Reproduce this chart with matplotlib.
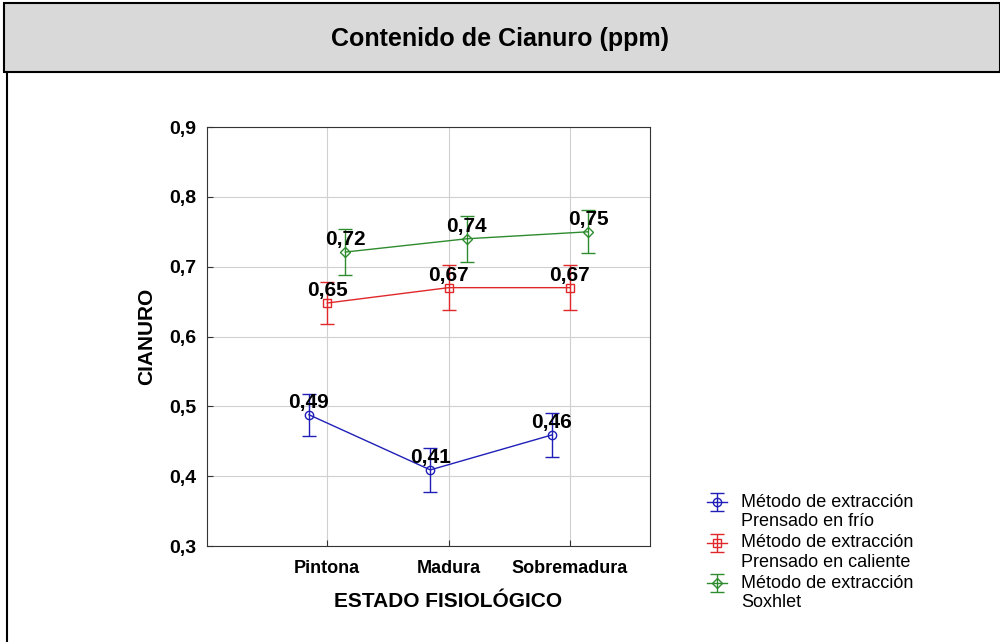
import matplotlib
matplotlib.use("Agg")
import matplotlib.pyplot as plt
from matplotlib.patches import Rectangle
from matplotlib.lines import Line2D
from matplotlib.legend_handler import HandlerErrorbar
from matplotlib.transforms import Affine2D
import numpy as np

plt.rcParams['font.family'] = ['Liberation Sans', 'DejaVu Sans']

# datos
estados = ["Pintona", "Madura", "Sobremadura"]
metodos = ["Método de extracción\nPrensado en frío",
           "Método de extracción\nPrensado en caliente",
           "Método de extracción\nSoxhlet"]
frio = [0.488, 0.409, 0.459]
caliente = [0.648, 0.670, 0.670]
soxhlet = [0.721, 0.740, 0.750]
err_frio = [0.030, 0.031, 0.032]
err_caliente = [0.030, 0.032, 0.032]
err_soxhlet = [0.033, 0.033, 0.031]
yticks = [0.3, 0.4, 0.5, 0.6, 0.7, 0.8, 0.9]

colores = ["#1f1fb8", "#e0282a", "#2e8b2e"]
marcadores = ["o", "s", "D"]
desplaz = [-0.15, 0.0, 0.15]


# simbolo de la leyenda alineado con la primera linea del texto
class HandlerArriba(HandlerErrorbar):
    def create_artists(self, legend, orig_handle, xdescent, ydescent,
                       width, height, fontsize, trans):
        trans = trans + Affine2D().translate(0, 10)
        return super().create_artists(legend, orig_handle, xdescent, ydescent,
                                      width, height, fontsize, trans)


fig = plt.figure(figsize=(10, 6.42), dpi=100)

# franja del titulo y bordes
fig.patches.append(Rectangle((0.004, 0.888), 0.996, 0.108, transform=fig.transFigure,
                             facecolor="#d9d9d9", edgecolor="black", lw=1.5))
fig.lines.append(Line2D([0.007, 0.007], [0.0, 0.888], transform=fig.transFigure,
                        color="black", lw=1.5))
fig.text(0.5, 0.940, "Contenido de Cianuro (ppm)", ha="center", va="center",
         fontsize=18, fontweight="bold")

ax = fig.add_axes([0.207, 0.1495, 0.443, 0.6526])
x = np.arange(len(estados))

series = [frio, caliente, soxhlet]
errores = [err_frio, err_caliente, err_soxhlet]
handles = []
for vals, errs, c, m, d in zip(series, errores, colores, marcadores, desplaz):
    xs = x + d
    h = ax.errorbar(xs, vals, yerr=errs, color=c, marker=m, mfc="none", mec=c,
                    ms=6 if m != "D" else 5, lw=1, capsize=5, capthick=1, elinewidth=1)
    handles.append(h)
    for xi, v in zip(xs, vals):
        ax.annotate("{:.2f}".format(v).replace(".", ","), (xi, v), xytext=(0, 5),
                    textcoords="offset points", ha="center", va="baseline",
                    fontsize=15, fontweight="bold", zorder=5)

ax.set_xlim(-0.99, 2.66)
ax.set_ylim(0.3, 0.9)
ax.set_xticks(x)
ax.set_xticklabels(estados, fontsize=13, fontweight="bold")
ax.set_yticks(yticks)
ax.set_yticklabels(["{:.1f}".format(t).replace(".", ",") for t in yticks],
                   fontsize=14, fontweight="bold")
ax.tick_params(direction="in", length=4, color="#333333", pad=8)
ax.tick_params(axis="x", pad=10)
ax.grid(True, color="#d0d0d0", lw=0.8)
ax.set_axisbelow(True)
for s in ax.spines.values():
    s.set_color("#333333")
ax.set_ylabel("CIANURO", fontsize=15, fontweight="bold", labelpad=9)
ax.set_xlabel("ESTADO FISIOLÓGICO", fontsize=15, fontweight="bold")
ax.xaxis.set_label_coords(0.544, -0.11)

fig.legend(handles, metodos, loc="upper left", bbox_to_anchor=(0.707, 0.231),
           frameon=False, fontsize=13, handlelength=1.1, handletextpad=0.8,
           labelspacing=0.22, borderpad=0, borderaxespad=0,
           handler_map={type(handles[0]): HandlerArriba()})

fig.savefig("out.png", dpi=100)
